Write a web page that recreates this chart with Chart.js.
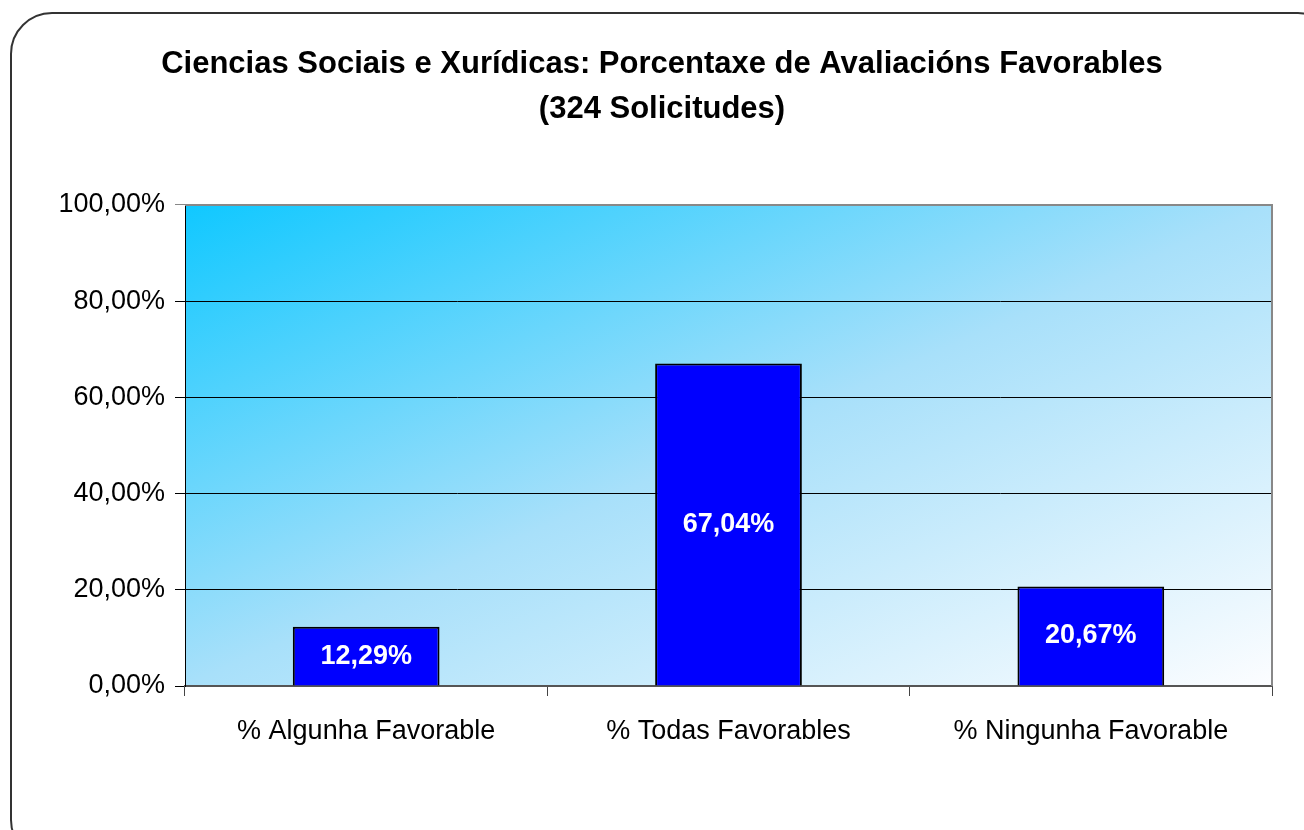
<!DOCTYPE html>
<html>
<head>
<meta charset="utf-8">
<script src="https://cdn.jsdelivr.net/npm/chart.js@4"></script>
<style>
  html, body { margin: 0; padding: 0; background: #fff; overflow: hidden; }
  #frame {
    position: absolute; left: 10px; top: 12px; width: 1330px; height: 850px;
    border: 2px solid #333; border-radius: 42px; box-sizing: border-box;
  }
  #wrap { position: absolute; left: 0; top: 0; width: 1304px; height: 830px; }
</style>
</head>
<body>
<div id="frame"></div>
<div id="wrap"><canvas id="chart" width="1304" height="830"></canvas></div>
<script>
const categories = ["% Algunha Favorable", "% Todas Favorables", "% Ningunha Favorable"];
const percentages = [12.29, 67.04, 20.67];
const titleLines = ["Ciencias Sociais e Xurídicas: Porcentaxe de Avaliacións Favorables", "(324 Solicitudes)"];

const FONT = "'Liberation Sans', Arial, sans-serif";

function fmt(v, digits) {
  return v.toFixed(digits).replace(".", ",") + "%";
}

// gradient plot background + grey top/right border
const plotBackground = {
  id: "plotBackground",
  beforeDraw(chart) {
    const { ctx, chartArea: a } = chart;
    const w = a.right - a.left, h = a.bottom - a.top;
    const k = (2 * w * h) / (w * w + h * h);
    const g = ctx.createLinearGradient(a.left, a.top, a.left + k * h, a.top + k * w);
    g.addColorStop(0, "#10C8FF");
    g.addColorStop(0.5, "#A8E0FA");
    g.addColorStop(1, "#FCFDFF");
    ctx.save();
    ctx.fillStyle = g;
    ctx.fillRect(a.left, a.top, w, h);
    ctx.restore();
  },
  afterDatasetsDraw(chart) {
    const { ctx, chartArea: a } = chart;
    ctx.save();
    ctx.strokeStyle = "#888";
    ctx.lineWidth = 2;
    ctx.beginPath();
    ctx.moveTo(a.left, a.top);
    ctx.lineTo(a.right, a.top);
    ctx.lineTo(a.right, a.bottom);
    ctx.stroke();
    ctx.restore();
  }
};

// value labels centred inside each bar
const barLabels = {
  id: "barLabels",
  afterDatasetsDraw(chart) {
    const { ctx } = chart;
    const meta = chart.getDatasetMeta(0);
    ctx.save();
    ctx.fillStyle = "#fff";
    ctx.font = "bold 27px " + FONT;
    ctx.textAlign = "center";
    ctx.textBaseline = "middle";
    meta.data.forEach((bar, i) => {
      ctx.fillText(fmt(percentages[i], 2), bar.x, (bar.y + bar.base) / 2);
    });
    ctx.restore();
  }
};

new Chart(document.getElementById("chart"), {
  type: "bar",
  data: {
    labels: categories,
    datasets: [{
      data: percentages,
      backgroundColor: "#0000FF",
      borderColor: "#000",
      borderWidth: 2,
      categoryPercentage: 1,
      barPercentage: 0.405
    }]
  },
  options: {
    responsive: false,
    animation: false,
    layout: { padding: { left: 52, right: 32, top: 0, bottom: 0 } },
    plugins: {
      legend: { display: false },
      tooltip: { enabled: false },
      title: {
        display: true,
        text: titleLines,
        color: "#000",
        font: { family: FONT, size: 31, weight: "bold", lineHeight: 1.45 },
        padding: { top: 42, bottom: 73 }
      }
    },
    scales: {
      x: {
        grid: { drawOnChartArea: false, tickLength: 10, color: "#444", offset: true },
        border: { color: "#555", width: 2 },
        ticks: { color: "#000", font: { family: FONT, size: 27 }, padding: 19, maxRotation: 0 },
        afterFit(scale) { scale.height = 144; }
      },
      y: {
        min: 0,
        max: 100,
        ticks: {
          stepSize: 20,
          color: "#000",
          font: { family: FONT, size: 27 },
          padding: 10,
          callback: (v) => fmt(v, 2)
        },
        grid: {
          tickLength: 10,
          color: (c) => (c.tick && c.tick.value === 100 ? "#888" : "#000"),
          lineWidth: 1
        },
        border: { color: "#000", width: 1 },
        afterFit(scale) { scale.width = 133; }
      }
    }
  },
  plugins: [plotBackground, barLabels]
});
</script>
</body>
</html>
